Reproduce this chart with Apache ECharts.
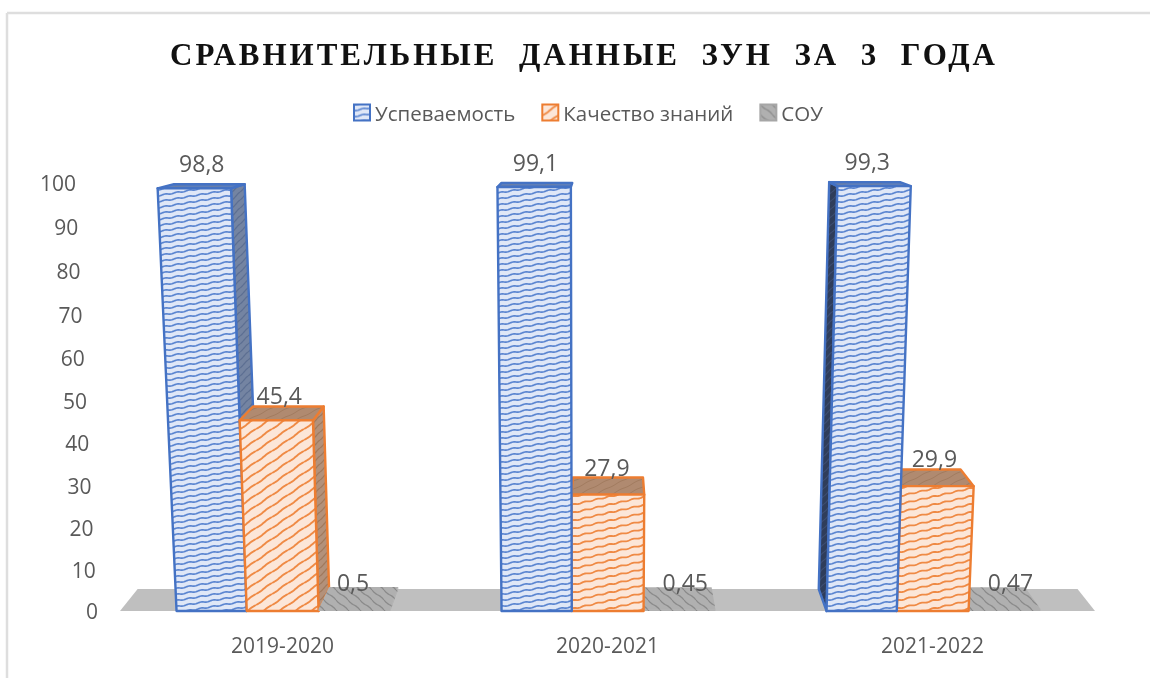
<!DOCTYPE html>
<html>
<head>
<meta charset="utf-8">
<script src="https://cdn.jsdelivr.net/npm/echarts@6/dist/echarts.min.js"></script>
<style>
  html, body { margin: 0; background: #fff; }
  #chart { width: 1150px; height: 678px; filter: blur(0.45px); }
  /* zrender has no letter spacing option, the title is the only bold text */
  #chart text[style*="bold"] { letter-spacing: 3px; }
</style>
</head>
<body>
<div id="chart"></div>
<script>
const categories = ["2019-2020", "2020-2021", "2021-2022"];
const seriesNames = ["Успеваемость", "Качество знаний", "СОУ"];
const uspevaemost = [98.8, 99.1, 99.3];
const kachestvo = [45.4, 27.9, 29.9];
const sou = [0.5, 0.45, 0.47];
const yTicks = [0, 10, 20, 30, 40, 50, 60, 70, 80, 90, 100];
const titleText = "СРАВНИТЕЛЬНЫЕ  ДАННЫЕ  ЗУН  ЗА  3  ГОДА";

const dataFont = '23px "Open Sans"';
const tickFont = '21px "Open Sans"';
const textColor = "#595959";

// tile with slanted wavy lines, tile is seamless because the line climbs one spacing per width
function hatch(bg, fg, width, spacing, amp, lw, down) {
  const c = document.createElement("canvas");
  c.width = width;
  c.height = spacing;
  const ctx = c.getContext("2d");
  ctx.fillStyle = bg;
  ctx.fillRect(0, 0, width, spacing);
  ctx.strokeStyle = fg;
  ctx.lineWidth = lw;
  const waves = Math.max(1, Math.round(width / 12));
  for (let k = -1; k <= 2; k++) {
    ctx.beginPath();
    for (let x = 0; x <= width; x++) {
      const climb = down ? x / width : 1 - x / width;
      const y = (k - 1 + climb) * spacing + amp * Math.sin((2 * Math.PI * waves * x) / width);
      if (x === 0) ctx.moveTo(x, y);
      else ctx.lineTo(x, y);
    }
    ctx.stroke();
  }
  return { image: c, repeat: "repeat" };
}

const blueFront = hatch("#dfe7f7", "#5b85d0", 36, 6, 0.5, 1.7);
const orangeSteep = hatch("#fce6d8", "#ef8a45", 16, 11, 0.4, 1.9);
const orangeFlat = hatch("#fce6d8", "#ef8a45", 36, 8, 0.5, 1.8);
const grayFront = hatch("#b0b0b0", "#8a8a8a", 12, 10, 0.6, 1.3, true);

const barStyles = [
  {
    front: [blueFront, blueFront, blueFront],
    top: hatch("#5f7fb8", "#6f7f9f", 36, 6, 0.4, 1),
    sideRight: hatch("#7484a2", "#5d6f92", 8, 8, 0.3, 1.2),
    sideLeft: hatch("#2f3d5a", "#3d4d70", 8, 8, 0.3, 1.2),
    stroke: "#4472c4",
    labelLift: 21,
    labelShift: [0, 0, -2],
  },
  {
    front: [orangeSteep, orangeFlat, orangeFlat],
    top: hatch("#b08a70", "#a27c60", 16, 8, 0.4, 1),
    sideRight: hatch("#b3917a", "#a0795d", 8, 8, 0.3, 1.2),
    sideLeft: hatch("#b3917a", "#a0795d", 8, 8, 0.3, 1.2),
    stroke: "#ed7d31",
    labelLift: 11,
    labelShift: [-3, -1, 3],
  },
  {
    front: [grayFront, grayFront, grayFront],
    top: grayFront,
    sideRight: grayFront,
    sideLeft: grayFront,
    stroke: null,
    labelLift: 5,
    labelShift: [-6, 7, 13],
  },
];

// bar edges as fractions of the category band
const barEdges = [-0.326, -0.11, 0.111, 0.332];
// the picture is a 3D chart: bars lean away from vanishX, and depth runs to depthX
const vanishX = 591;
const depthX = 610;

function flatten(h, full) {
  return h * (0.965 + (0.035 * h) / full);
}
function front(x, h) {
  return [x + (x - vanishX) * 0.000108 * h, h];
}
function backOf(p) {
  return [p[0] + (depthX - p[0]) * 0.036, p[1] + 22 * (1 - p[1] / 520)];
}
function toScreen(p, base) {
  return [p[0], base - p[1]];
}

function face(points, base, fill, stroke, z2) {
  return {
    type: "polygon",
    z2: z2,
    shape: { points: points.map((p) => toScreen(p, base)) },
    style: stroke
      ? { fill: fill, stroke: stroke, lineWidth: 2.4, lineJoin: "round" }
      : { fill: fill },
  };
}

function renderBar(seriesIndex) {
  return function (params, api) {
    const i = api.value(0);
    const value = api.value(1);
    const look = barStyles[seriesIndex];
    const center = api.coord([i, 0])[0];
    const band = api.size([1, 0])[0];
    const base = api.coord([i, 0])[1];
    const full = base - params.coordSys.y;
    const h = flatten(base - api.coord([i, value])[1], full);
    const xl = center + barEdges[seriesIndex] * band;
    const xr = center + barEdges[seriesIndex + 1] * band;

    const fl = front(xl, h);
    const fr = front(xr, h);
    const bl = backOf(fl);
    const br = backOf(fr);
    const gl = [xl, 0];
    const gr = [xr, 0];

    // left group stacks left to right, right group the other way round
    const order = i === 0 ? seriesIndex : 2 - seriesIndex;
    const z = 10 + order * 5;
    const children = [];
    if (br[0] > fr[0] + 2) {
      children.push(face([fr, br, backOf(gr), gr], base, look.sideRight, look.stroke, z));
    }
    if (bl[0] < fl[0] - 2) {
      children.push(face([fl, bl, backOf(gl), gl], base, look.sideLeft, look.stroke, z));
    }
    children.push(face([fl, bl, br, fr], base, look.top, look.stroke, z + 1));
    children.push(face([gl, fl, fr, gr], base, look.front[i], look.stroke, z + 2));

    children.push({
      type: "text",
      z2: 100,
      style: {
        text: String(value).replace(".", ","),
        x: (fl[0] + fr[0] + bl[0] + br[0]) / 4 + look.labelShift[i],
        y: base - bl[1] - look.labelLift,
        align: "center",
        verticalAlign: "middle",
        font: dataFont,
        fill: textColor,
      },
    });
    return { type: "group", children: children };
  };
}

function renderFloor(params, api) {
  const cs = params.coordSys;
  const base = cs.y + cs.height;
  const a = [cs.x, 0];
  const b = [cs.x + cs.width, 0];
  return face([a, backOf(a), backOf(b), b], base, "#bfbfbf", null, 1);
}

// the tick labels follow the tilted axis of the picture, so they go through the same projection
function renderTick(params, api) {
  const value = api.value(0);
  const cs = params.coordSys;
  const base = cs.y + cs.height;
  const h = flatten(base - api.coord([0, value])[1], cs.height);
  return {
    type: "text",
    style: {
      text: String(value),
      x: cs.x - 22 - (22 * value) / 100,
      y: base - h,
      align: "right",
      verticalAlign: "middle",
      font: tickFont,
      fill: textColor,
    },
  };
}

function barSeries(name, values, index) {
  return {
    name: name,
    type: "custom",
    renderItem: renderBar(index),
    encode: { x: 0, y: 1 },
    data: values.map((v, i) => [i, v]),
    clip: false,
  };
}

const chart = echarts.init(document.getElementById("chart"), null, { renderer: "svg" });
chart.setOption({
  animation: false,
  backgroundColor: "#fff",
  title: {
    text: titleText,
    left: 579,
    top: 34,
    textAlign: "center",
    textStyle: { fontFamily: "Liberation Serif", fontWeight: "bold", fontSize: 31, color: "#111" },
  },
  legend: {
    top: 97,
    left: 348,
    itemWidth: 16,
    itemHeight: 16,
    itemGap: 26,
    textStyle: { fontFamily: "Open Sans", fontSize: 20.5, color: textColor },
    data: seriesNames.map((name, i) => ({
      name: name,
      icon: "rect",
      itemStyle: {
        color: barStyles[i].front[0],
        borderColor: barStyles[i].stroke || "#a6a6a6",
        borderWidth: 2,
      },
    })),
  },
  grid: { left: 120, right: 55, top: 183, bottom: 67 },
  xAxis: {
    type: "category",
    data: categories,
    axisLine: { show: false },
    axisTick: { show: false },
    axisLabel: { margin: 23, fontFamily: "Open Sans", fontSize: 21, color: textColor },
  },
  yAxis: {
    type: "value",
    min: 0,
    max: 100,
    interval: 10,
    axisLine: { show: false },
    axisTick: { show: false },
    axisLabel: { show: false },
    splitLine: { show: false },
  },
  graphic: [
    { type: "line", shape: { x1: 7, y1: 13, x2: 1150, y2: 13 }, style: { stroke: "#dedede", lineWidth: 2.5 } },
    { type: "line", shape: { x1: 7, y1: 13, x2: 7, y2: 678 }, style: { stroke: "#dedede", lineWidth: 2.5 } },
  ],
  series: [
    { type: "custom", renderItem: renderFloor, data: [[0, 0]], silent: true, clip: false },
    { type: "custom", renderItem: renderTick, data: yTicks.map((v) => [v]), silent: true, clip: false },
    barSeries(seriesNames[0], uspevaemost, 0),
    barSeries(seriesNames[1], kachestvo, 1),
    barSeries(seriesNames[2], sou, 2),
  ],
});
</script>
</body>
</html>
